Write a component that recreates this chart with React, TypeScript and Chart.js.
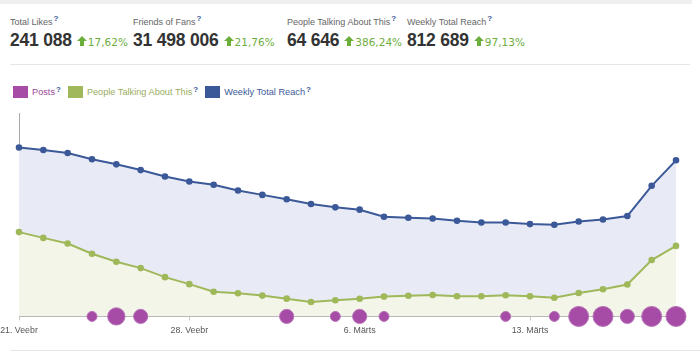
import React, { useEffect, useRef } from "react";
import { Chart, registerables } from "chart.js";

Chart.register(...registerables);

// ---- data ----
const categories = [
  "21. Veebr", "22. Veebr", "23. Veebr", "24. Veebr", "25. Veebr", "26. Veebr", "27. Veebr",
  "28. Veebr", "29. Veebr", "1. Märts", "2. Märts", "3. Märts", "4. Märts", "5. Märts",
  "6. Märts", "7. Märts", "8. Märts", "9. Märts", "10. Märts", "11. Märts", "12. Märts",
  "13. Märts", "14. Märts", "15. Märts", "16. Märts", "17. Märts", "18. Märts", "19. Märts",
];
const tickLabels = ["21. Veebr", "28. Veebr", "6. Märts", "13. Märts"];

const weeklyTotalReach = [
  879300, 866700, 850900, 817900, 791700, 761800, 728800, 702600, 685300, 655400,
  632800, 609800, 585600, 567800, 555800, 519100, 513800, 510100, 498100, 489200,
  489200, 480800, 477100, 494400, 504900, 522700, 680000, 812689,
];
const peopleTalking = [
  77300, 72000, 66800, 57500, 50100, 44300, 36000, 29600, 22600, 21200,
  19100, 16300, 13200, 14800, 16200, 18200, 18900, 19700, 18500, 18500,
  19400, 18500, 17100, 21500, 24900, 29300, 51700, 64646,
];
const posts = [
  0, 0, 0, 1, 3, 2, 0, 0, 0, 0, 0, 2, 0, 1,
  2, 1, 0, 0, 0, 0, 1, 0, 1, 4, 4, 2, 4, 4,
];

const statLabels = ["Total Likes", "Friends of Fans", "People Talking About This", "Weekly Total Reach"];
const statValues = ["241 088", "31 498 006", "64 646", "812 689"];
const statChanges = ["17,62%", "21,76%", "386,24%", "97,13%"];

const legendNames = ["Posts", "People Talking About This", "Weekly Total Reach"];

// ---- layout / style ----
const statLeft = [10, 133, 287, 407];
const BLUE = "#3b5998";
const GREEN = "#9fb85a";
const PURPLE = "#a64ca6";
const legendColors = [PURPLE, GREEN, BLUE];
const legendTextColors = ["#9a4a9a", "#9aad5e", "#3b5998"];
const AXIS = "#a8a8a8";
const FONT = "'Liberation Sans', Arial, sans-serif";

const Q = ({ top = -4 }: { top?: number }) => (
  <span style={{ color: BLUE, fontWeight: "bold", fontSize: 8, position: "relative", top, marginLeft: 1 }}>?</span>
);

const Arrow = () => (
  <svg width="10" height="10" viewBox="0 0 10 10" style={{ display: "inline-block", marginRight: 1 }}>
    <polygon points="5,0 10,5 7,5 7,10 3,10 3,5 0,5" fill="#6cae3c" />
  </svg>
);

export default function App() {
  const canvasRef = useRef<HTMLCanvasElement | null>(null);

  useEffect(() => {
    document.body.style.margin = "0";
    const ctx = canvasRef.current!.getContext("2d")!;
    const bubbleData = posts
      .map((p, i) => (p > 0 ? { x: categories[i], y: 0, r: 5 * Math.sqrt(p) } : null))
      .filter((d) => d !== null);

    const chart = new Chart(ctx, {
      type: "line",
      data: {
        labels: categories,
        datasets: [
          {
            type: "bubble",
            label: legendNames[0],
            data: bubbleData as any,
            yAxisID: "yReach",
            backgroundColor: PURPLE,
            borderColor: "#b873b8",
            borderWidth: 1,
            order: 0,
            clip: false as any,
          } as any,
          {
            label: legendNames[1],
            data: peopleTalking,
            yAxisID: "yTalk",
            borderColor: GREEN,
            backgroundColor: "#f3f5e8",
            pointBackgroundColor: GREEN,
            pointBorderColor: GREEN,
            pointRadius: 2.3,
            borderWidth: 2,
            fill: "origin",
            tension: 0,
            order: 1,
          },
          {
            label: legendNames[2],
            data: weeklyTotalReach,
            yAxisID: "yReach",
            borderColor: BLUE,
            backgroundColor: "#e8ebf5",
            pointBackgroundColor: BLUE,
            pointBorderColor: BLUE,
            pointRadius: 2.3,
            borderWidth: 2,
            fill: "origin",
            tension: 0,
            order: 2,
          },
        ],
      },
      options: {
        animation: false,
        responsive: false,
        maintainAspectRatio: false,
        layout: { padding: { left: 19, right: 24, top: 12, bottom: 0 } },
        plugins: { legend: { display: false }, tooltip: { enabled: false } },
        scales: {
          x: {
            type: "category",
            offset: false,
            afterFit: (s: any) => {
              s.paddingLeft = 0;
              s.paddingRight = 0;
            },
            border: { display: true, color: AXIS, width: 1 },
            grid: {
              display: true,
              drawOnChartArea: false,
              drawTicks: true,
              tickLength: 4,
              color: (c: any) =>
                tickLabels.includes(categories[c.index]) ? "#c8c8c8" : "rgba(0,0,0,0)",
            },
            ticks: {
              autoSkip: false,
              maxRotation: 0,
              padding: 5,
              color: "#555",
              font: { family: FONT, size: 8.8 },
              callback: (_v: any, i: number) =>
                tickLabels.includes(categories[i]) ? categories[i] : "",
            },
          },
          yReach: {
            type: "linear",
            position: "left",
            min: 0,
            max: 1059000,
            display: true,
            afterFit: (s: any) => {
              s.width = 0;
            },
            border: { display: true, color: AXIS, width: 1 },
            grid: { display: false, drawTicks: false },
            ticks: { display: false },
          },
          yTalk: {
            type: "linear",
            position: "right",
            min: 0,
            max: 186500,
            display: false,
          },
        },
      },
    });
    return () => chart.destroy();
  }, []);

  return (
    <div style={{ position: "relative", width: 700, height: 352, overflow: "hidden", background: "#fff", fontFamily: FONT }}>
      <div style={{ position: "absolute", left: 0, top: 0, width: 692, height: 4, background: "#efefef" }} />
      {statLabels.map((lab, i) => (
        <div key={lab} style={{ position: "absolute", left: statLeft[i], top: 16, whiteSpace: "nowrap" }}>
          <div style={{ fontSize: 9, color: "#666", lineHeight: "12px" }}>
            {lab}
            <Q />
          </div>
          <div style={{ marginTop: 1, display: "flex", alignItems: "baseline", whiteSpace: "nowrap" }}>
            <span style={{ fontSize: 17.5, fontWeight: "bold", color: "#333", lineHeight: "20px", letterSpacing: -0.2 }}>
              {statValues[i]}
            </span>
            <span style={{ marginLeft: 5, display: "inline-flex", alignItems: "baseline" }}>
              <Arrow />
              <span style={{ fontSize: 10.5, color: "#6cae3c", fontFamily: "'DejaVu Sans', Verdana, sans-serif" }}>
                {statChanges[i]}
              </span>
            </span>
          </div>
        </div>
      ))}
      <div style={{ position: "absolute", left: 10, top: 64, width: 680, height: 1, background: "#e6e6e6" }} />
      <div style={{ position: "absolute", left: 13, top: 86, display: "flex", alignItems: "center", fontSize: 9.2 }}>
        {legendNames.map((n, i) => (
          <span key={n} style={{ display: "inline-flex", alignItems: "center", marginRight: 7 }}>
            <span
              style={{
                display: "inline-block",
                width: 13,
                height: 10,
                background: legendColors[i],
                border: "1px solid rgba(255,255,255,0.5)",
                outline: "1px solid " + legendColors[i],
                outlineOffset: -1,
                marginRight: 4,
              }}
            />
            <span style={{ color: legendTextColors[i] }}>{n}</span>
            <Q top={-3} />
          </span>
        ))}
      </div>
      <div style={{ position: "absolute", left: 0, top: 101, width: 700, height: 240 }}>
        <canvas ref={canvasRef} width={700} height={240} style={{ display: "block", width: 700, height: 240 }} />
      </div>
      <div style={{ position: "absolute", left: 10, top: 350, width: 690, height: 1, background: "#e6e6e6" }} />
    </div>
  );
}
